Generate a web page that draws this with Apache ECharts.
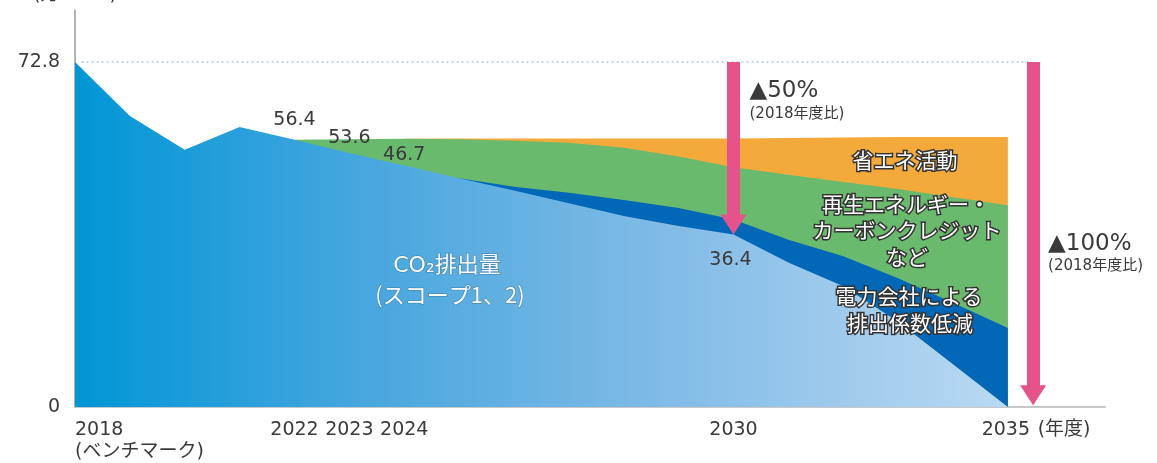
<!DOCTYPE html>
<html>
<head>
<meta charset="utf-8">
<script src="https://cdn.jsdelivr.net/npm/echarts@6/dist/echarts.min.js"></script>
<style>
html,body{margin:0;padding:0;background:#fff;}
#chart{width:1157px;height:463px;}
</style>
</head>
<body>
<div id="chart"></div>
<script>
// ---- data (万t-CO2) ----
const years = [2018,2019,2020,2021,2022,2023,2024,2025,2026,2027,2028,2029,2030,2031,2032,2033,2034,2035];
// CO2排出量 (スコープ1、2)
const co2Emissions = [72.8,61.4,54.3,59.1,56.4,53.6,51.0,48.3,45.7,43.0,40.3,38.2,36.4,30.5,25.5,18.0,9.0,0];
// 電力会社による排出係数低減
const powerFactorReduction = [null,null,null,null,null,null,null,0,0.8,2.2,3.4,3.8,3.2,4.8,6.3,9.2,13.0,16.7];
// 再生エネルギー・カーボンクレジットなど
const renewableCredit = [null,null,null,null,0,2.9,5.6,8.2,9.7,10.6,11.0,10.9,11.0,13.7,15.7,18.8,22.3,25.9];
// 省エネ活動
const energySaving = [null,null,null,null,null,null,0,0.2,0.5,0.9,2.0,3.8,6.1,7.8,9.4,11.0,12.7,14.4];
// tick labels
const xTickYears = [2018,2022,2023,2024,2030,2035];
const yTickValues = [0,72.8];
// value annotations
const valueLabelYears = [2022,2023,2024,2030];
const valueLabelValues = [56.4,53.6,46.7,36.4];
const baseline = 72.8;

// ---- build cumulative band tops ----
const darkTop = co2Emissions.map((v,i)=> powerFactorReduction[i]==null ? null : v + powerFactorReduction[i]);
const greenTop = co2Emissions.map((v,i)=> renewableCredit[i]==null ? null : (darkTop[i]==null ? v : darkTop[i]) + renewableCredit[i]);
const orangeTop = co2Emissions.map((v,i)=> energySaving[i]==null ? null : greenTop[i] + energySaving[i]);
const pairs = arr => years.map((y,i)=>[y, arr[i]==null ? null : +arr[i].toFixed(2)]);

const NUM_FONT = "'DejaVu Sans','Noto Sans CJK JP',sans-serif";
const PINK = '#e8528a';

const chart = echarts.init(document.getElementById('chart'), null, {renderer:'canvas'});

const option = {
  animation:false,
  backgroundColor:'#fff',
  grid:{left:75,right:52,top:10,bottom:56,containLabel:false,outerBoundsMode:'none'},
  xAxis:{
    type:'value', min:2018, max:2036.77,
    axisLine:{show:true,lineStyle:{color:'#c8c8c8',width:2}},
    axisTick:{show:false}, splitLine:{show:false},
    axisLabel:{
      customValues:xTickYears, alignMinLabel:'left',
      margin:12, fontSize:19, lineHeight:22, color:'#3a3a3a', fontFamily:NUM_FONT,
      formatter:function(v){
        if (v===2018) return '2018\n(ベンチマーク)';
        if (v===2035) return '{sp|}2035{u|(年度)}';
        return String(v);
      },
      rich:{
        sp:{width:60,fontSize:19,fontFamily:NUM_FONT},
        u:{width:60,fontSize:19,color:'#3a3a3a',fontFamily:NUM_FONT,padding:[0,0,0,4]}
      }
    }
  },
  yAxis:{
    type:'value', min:0, max:83.8,
    name:'(万t-CO₂)', nameLocation:'end', nameGap:5,
    nameTextStyle:{fontSize:19,color:'#3a3a3a',fontFamily:NUM_FONT,align:'center'},
    axisLine:{show:true,lineStyle:{color:'#9a9a9a',width:1.5}},
    axisTick:{show:false}, splitLine:{show:false},
    axisLabel:{customValues:yTickValues, margin:15, fontSize:19, color:'#3a3a3a', fontFamily:NUM_FONT,
      formatter:v=> v===0 ? '0' : String(v)}
  },
  series:[
    { name:'省エネ活動', type:'line', data:pairs(orangeTop), symbol:'none', lineStyle:{width:0},
      areaStyle:{color:'#f4a93b',opacity:1}, silent:true,
      markLine:{ silent:true, symbol:'none', label:{show:false},
        lineStyle:{color:'#a9c9ec',width:1.5,type:[2,3]},
        data:[[{coord:[2018.12,baseline]},{coord:[2035.4,baseline]}]] } },
    { name:'再生エネルギー・カーボンクレジットなど', type:'line', data:pairs(greenTop), symbol:'none', lineStyle:{width:0},
      areaStyle:{color:'#6aba6d',opacity:1}, silent:true },
    { name:'電力会社による排出係数低減', type:'line', data:pairs(darkTop), symbol:'none', lineStyle:{width:0},
      areaStyle:{color:'#0068b7',opacity:1}, silent:true },
    { name:'CO₂排出量', type:'line', data:pairs(co2Emissions), symbol:'none', lineStyle:{width:0}, silent:true,
      areaStyle:{opacity:1,color:new echarts.graphic.LinearGradient(0,0,1,0,[
        {offset:0,color:'#0096d6'},{offset:0.3,color:'#45a6de'},{offset:0.62,color:'#7fbae6'},{offset:1,color:'#bad9f2'}])},
      markLine:{ silent:true, symbol:'none', label:{show:false},
        lineStyle:{color:PINK,width:13,type:'solid',opacity:1},
        emphasis:{disabled:true},
        data:[
          [{coord:[2030,baseline]},{coord:[2030,38.6]}],
          [{coord:[2035.46,baseline]},{coord:[2035.46,2.6]}]
        ] },
      markPoint:{ silent:true, symbol:'circle', symbolSize:0, z:10,
        label:{show:true,position:'inside',color:'#3a3a3a',fontSize:19,fontFamily:NUM_FONT,formatter:p=>String(p.value)},
        data:valueLabelYears.map((y,i)=>({coord:[y,valueLabelValues[i]], value:valueLabelValues[i],
          label:{offset:[[0,-20],[0,-15],[0,-31],[-3,26]][i]}})).concat([
          {coord:[2030,38.5], symbol:'triangle', symbolSize:[26,20], symbolRotate:180, itemStyle:{color:PINK}, label:{show:false}},
          {coord:[2035.46,2.5], symbol:'triangle', symbolSize:[26,20], symbolRotate:180, itemStyle:{color:PINK}, label:{show:false}}
        ])
      } }
  ]
};
chart.setOption(option);

// annotations placed relative to axis positions
const p50 = chart.convertToPixel({xAxisIndex:0,yAxisIndex:0},[2030,baseline]);
const p100 = chart.convertToPixel({xAxisIndex:0,yAxisIndex:0},[2035.46,baseline]);
const bandText = (t,x,y)=>({type:'text',x:x,y:y,silent:true,z:100,
  style:{text:t,fill:'#fff',stroke:'#333',lineWidth:3,font:"21px 'Noto Sans CJK JP'",align:'center',verticalAlign:'middle'}});
const plainText = (t,x,y,size,align)=>({type:'text',x:x,y:y,silent:true,z:100,
  style:{text:t,fill:'#3a3a3a',font:size+"px 'DejaVu Sans','Noto Sans CJK JP'",align:align||'left',verticalAlign:'middle'}});
chart.setOption({
  graphic:[
    plainText('▲50%', p50[0]+16, 91, 23),
    plainText('(2018年度比)', p50[0]+16, 114, 15),
    plainText('▲100%', p100[0]+15, 244, 23),
    plainText('(2018年度比)', p100[0]+15, 266, 15),
    bandText('省エネ活動', 905, 160),
    bandText('再生エネルギー・', 906, 204),
    bandText('カーボンクレジット', 907, 230),
    bandText('など', 907, 257),
    bandText('電力会社による', 909, 296),
    bandText('排出係数低減', 910, 323),
    {type:'text',x:447,y:266,silent:true,z:100,style:{text:'CO₂排出量',fill:'#fff',stroke:'rgba(40,80,120,0.35)',lineWidth:1.5,
      font:"22px 'DejaVu Sans','Noto Sans CJK JP'",align:'center',verticalAlign:'middle'}},
    {type:'text',x:450,y:295,silent:true,z:100,style:{text:'(スコープ1、2)',fill:'#fff',stroke:'rgba(40,80,120,0.35)',lineWidth:1.5,
      font:"22px 'Noto Sans CJK JP','DejaVu Sans'",align:'center',verticalAlign:'middle'}}
  ]
});
</script>
</body>
</html>
